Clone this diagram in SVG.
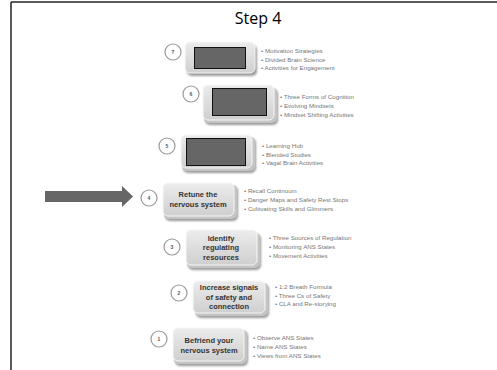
<svg xmlns="http://www.w3.org/2000/svg" width="497" height="370" viewBox="0 0 497 370">
<defs>
<linearGradient id="g" x1="0" y1="0" x2="0" y2="1">
<stop offset="0" stop-color="#ececec"/>
<stop offset="1" stop-color="#cfcfcf"/>
</linearGradient>
<filter id="bl" x="-20%" y="-20%" width="140%" height="140%"><feGaussianBlur stdDeviation="1.2"/></filter>
</defs>
<style>
.sh{fill:#9a9a9a;filter:url(#bl)}
.bx{fill:url(#g);stroke:#f7f7f7;stroke-width:1}
.bk{fill:#c4c4c4}
.dk{fill:#666;stroke:#111;stroke-width:1}
.ci{fill:#fff;stroke:#999;stroke-width:1.2}
.num{font-family:"Liberation Sans",Arial,sans-serif;font-size:5px;font-weight:bold;fill:#555;text-anchor:middle}
.bt{font-family:"Liberation Sans",Arial,sans-serif;font-size:7.5px;font-weight:bold;fill:#333;text-anchor:middle}
.li{font-family:"Liberation Sans",Arial,sans-serif;font-size:6.2px;fill:#777}
.title{font-family:"Open Sans","Liberation Sans",Arial,sans-serif;font-size:16px;fill:#000;text-anchor:middle}
</style>
<rect width="497" height="370" fill="#fff"/>
<g id="frame">
<line x1="11" y1="2" x2="497" y2="2" stroke="#222" stroke-width="1.5"/>
<line x1="11" y1="2" x2="11" y2="370" stroke="#222" stroke-width="1.5"/>
</g>
<text class="title" x="258" y="24">Step 4</text>

<g id="connectors">
<polygon points="45,191 122,191 122,186 133,196.5 122,207 122,202 45,202" fill="#666"/>
</g>

<g id="step7">
<circle class="ci" cx="173" cy="52" r="8"/>
<text class="num" x="173" y="54">7</text>
<rect class="sh" x="187" y="45" width="70" height="31" rx="5"/>
<rect class="bx" x="185" y="42" width="70" height="31" rx="5"/>
<rect class="dk" x="194.5" y="47.5" width="51" height="21"/>
<text class="li"><tspan x="261" y="53">•  Motivation Strategies</tspan><tspan x="261" y="61.5">•  Divided Brain Science</tspan><tspan x="261" y="70">•  Activities for Engagement</tspan></text>
</g>

<g id="step6">
<circle class="ci" cx="191" cy="94" r="8"/>
<text class="num" x="191" y="96">6</text>
<rect class="sh" x="205" y="89" width="73" height="36" rx="5"/>
<rect class="bk" x="204" y="88" width="73" height="35" rx="5"/>
<rect class="bx" x="203" y="85" width="71" height="35" rx="5"/>
<rect class="dk" x="212.5" y="88.5" width="54" height="27"/>
<text class="li"><tspan x="280" y="99">•  Three Forms of Cognition</tspan><tspan x="280" y="108">•  Evolving Mindsets</tspan><tspan x="280" y="117">•  Mindset Shifting Activities</tspan></text>
</g>

<g id="step5">
<circle class="ci" cx="167" cy="146" r="8"/>
<text class="num" x="167" y="148">5</text>
<rect class="sh" x="183" y="138" width="73" height="35" rx="5"/>
<rect class="bk" x="182" y="137" width="73" height="34" rx="5"/>
<rect class="bx" x="181" y="135" width="71" height="33" rx="5"/>
<rect class="dk" x="186.5" y="138.5" width="59" height="27"/>
<text class="li"><tspan x="262" y="148">•  Learning Hub</tspan><tspan x="262" y="156.5">•  Blended Studies</tspan><tspan x="262" y="165">•  Vagal Brain Activities</tspan></text>
</g>

<g id="step4">
<circle class="ci" cx="149" cy="198" r="8"/>
<text class="num" x="149" y="200">4</text>
<rect class="sh" x="165" y="186" width="73" height="35" rx="5"/>
<rect class="bk" x="164" y="185" width="73" height="34" rx="5"/>
<rect class="bx" x="163" y="183" width="71" height="33" rx="5"/>
<text class="bt"><tspan x="198" y="197">Retune the</tspan><tspan x="198" y="207">nervous system</tspan></text>
<text class="li"><tspan x="244" y="193">•  Recall Continuum</tspan><tspan x="244" y="202">•  Danger Maps and Safety Rest Stops</tspan><tspan x="244" y="211">•  Cultivating Skills and Glimmers</tspan></text>
</g>

<g id="step3">
<circle class="ci" cx="172" cy="247" r="8"/>
<text class="num" x="172" y="249">3</text>
<rect class="sh" x="188" y="234" width="73" height="36" rx="5"/>
<rect class="bk" x="187" y="233" width="73" height="35" rx="5"/>
<rect class="bx" x="186" y="230" width="71" height="35" rx="5"/>
<text class="bt"><tspan x="221" y="240.5">Identify</tspan><tspan x="221" y="250">regulating</tspan><tspan x="221" y="259.5">resources</tspan></text>
<text class="li"><tspan x="269" y="240">•  Three Sources of Regulation</tspan><tspan x="269" y="249">•  Monitoring ANS States</tspan><tspan x="269" y="258">•  Movement Activities</tspan></text>
</g>

<g id="step2">
<circle class="ci" cx="179" cy="293" r="8"/>
<text class="num" x="179" y="295">2</text>
<rect class="sh" x="196" y="284" width="73" height="34" rx="5"/>
<rect class="bk" x="195" y="283" width="73" height="33" rx="5"/>
<rect class="bx" x="193" y="281" width="72" height="32" rx="5"/>
<text class="bt"><tspan x="229" y="290">Increase signals</tspan><tspan x="229" y="299.5">of safety and</tspan><tspan x="229" y="309">connection</tspan></text>
<text class="li"><tspan x="275" y="289">•  1:2 Breath Formula</tspan><tspan x="275" y="297.5">•  Three Cs of Safety</tspan><tspan x="275" y="306">•  CLA and Re-storying</tspan></text>
</g>

<g id="step1">
<circle class="ci" cx="159" cy="339" r="8"/>
<text class="num" x="159" y="341">1</text>
<rect class="sh" x="175" y="331" width="73" height="35" rx="5"/>
<rect class="bk" x="174" y="330" width="73" height="34" rx="5"/>
<rect class="bx" x="173" y="328" width="71" height="33" rx="5"/>
<text class="bt"><tspan x="209" y="343">Befriend your</tspan><tspan x="209" y="353">nervous system</tspan></text>
<text class="li"><tspan x="253" y="340">•  Observe ANS States</tspan><tspan x="253" y="349">•  Name ANS States</tspan><tspan x="253" y="358">•  Views from ANS States</tspan></text>
</g>
</svg>
